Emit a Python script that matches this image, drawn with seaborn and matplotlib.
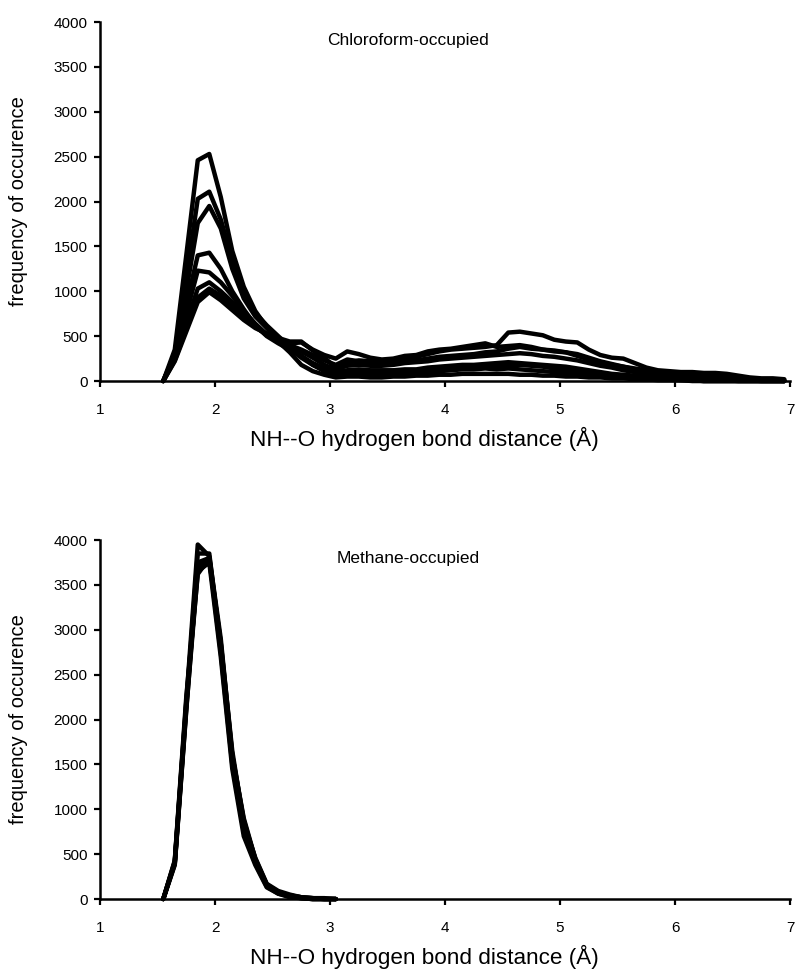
import numpy as np
import pandas as pd
import matplotlib
matplotlib.use("Agg")
import matplotlib.pyplot as plt
import seaborn as sns

# Bin centres of the NH--O distance histograms (Å)
chloroform_distance = np.round(np.arange(1.55, 6.96, 0.1), 2)
methane_distance = np.round(np.arange(1.55, 3.06, 0.1), 2)

# Chloroform-occupied trajectories: counts per 0.1 Å bin
chloroform_run1 = [0, 350, 1400, 2460, 2530, 2050, 1450, 1050, 780, 600, 440, 320, 180, 110, 70,
                   40, 50, 50, 40, 40, 50, 50, 60, 60, 70, 70, 80, 80, 80, 80, 80, 70, 70, 60, 60,
                   50, 50, 40, 40, 30, 30, 20, 20, 10, 10, 10, 0, 0, 0, 0, 0, 0, 0, 0, 0]
chloroform_run2 = [0, 300, 1150, 2030, 2110, 1800, 1350, 1000, 760, 620, 500, 380, 280, 180, 110,
                   60, 70, 70, 70, 70, 80, 80, 90, 100, 110, 120, 130, 130, 140, 130, 140, 130, 120, 110, 100,
                   90, 80, 70, 60, 50, 40, 30, 30, 20, 20, 10, 10, 0, 0, 0, 0, 0, 0, 0, 0]
chloroform_run3 = [0, 300, 1000, 1760, 1950, 1700, 1250, 920, 720, 590, 460, 360, 260, 180, 120,
                   80, 100, 100, 100, 100, 110, 120, 120, 130, 150, 160, 170, 170, 180, 170, 180, 180, 170, 160, 140,
                   120, 100, 90, 80, 70, 60, 50, 40, 30, 20, 20, 10, 0, 0, 0, 0, 0, 0, 0, 0]
chloroform_run4 = [0, 280, 850, 1400, 1430, 1250, 1000, 800, 620, 500, 420, 350, 280, 200, 140,
                   100, 120, 130, 120, 120, 120, 130, 130, 150, 160, 170, 180, 180, 190, 200, 210, 200, 190, 180, 170,
                   160, 140, 120, 100, 80, 70, 60, 50, 40, 30, 30, 20, 20, 10, 10, 0, 0, 0, 0, 0]
chloroform_run5 = [0, 270, 750, 1230, 1210, 1100, 950, 780, 640, 520, 450, 390, 330, 260, 180,
                   130, 170, 180, 170, 170, 180, 200, 210, 220, 240, 250, 260, 270, 280, 290, 300, 310, 300, 280, 270,
                   250, 230, 200, 170, 150, 120, 100, 80, 70, 60, 50, 40, 30, 30, 20, 10, 10, 0, 0, 0]
chloroform_run6 = [0, 250, 650, 1030, 1100, 1000, 880, 740, 610, 510, 450, 400, 350, 290, 230,
                   180, 240, 220, 200, 200, 210, 220, 230, 250, 270, 280, 290, 300, 320, 330, 360, 380, 360, 350, 330,
                   320, 300, 260, 220, 190, 160, 130, 110, 90, 80, 70, 60, 50, 40, 30, 30, 20, 10, 10, 0]
chloroform_run7 = [0, 230, 580, 930, 1030, 950, 830, 700, 600, 520, 460, 420, 430, 350, 290,
                   250, 330, 300, 260, 240, 250, 280, 290, 330, 350, 360, 380, 400, 420, 380, 390, 400, 380, 350, 340,
                   320, 280, 240, 210, 180, 160, 140, 120, 100, 90, 80, 80, 70, 60, 50, 40, 30, 20, 20, 10]
chloroform_run8 = [0, 220, 550, 880, 990, 900, 790, 680, 590, 530, 480, 440, 440, 340, 260,
                   150, 200, 230, 220, 210, 230, 260, 270, 300, 330, 350, 360, 370, 380, 400, 540, 550, 530, 510, 460,
                   440, 430, 350, 290, 260, 250, 200, 150, 120, 110, 100, 100, 90, 90, 80, 60, 40, 30, 30, 20]

# Methane-occupied trajectories: counts per 0.1 Å bin
methane_run1 = [0, 420, 2200, 3950, 3820, 2900, 1600, 900, 450, 160, 80, 40, 20, 10, 0, 0]
methane_run2 = [0, 400, 2150, 3850, 3850, 2800, 1550, 800, 420, 150, 70, 30, 10, 0, 0, 0]
methane_run3 = [0, 380, 2100, 3750, 3800, 2750, 1500, 750, 400, 140, 60, 30, 10, 0, 0, 0]
methane_run4 = [0, 410, 2180, 3700, 3780, 2850, 1650, 850, 460, 170, 90, 50, 20, 10, 0, 0]
methane_run5 = [0, 390, 2120, 3650, 3750, 2700, 1450, 700, 380, 130, 60, 20, 10, 0, 0, 0]
methane_run6 = [0, 430, 2250, 3620, 3800, 2850, 1600, 880, 440, 160, 80, 40, 20, 10, 10, 0]

chloroform_runs = [chloroform_run1, chloroform_run2, chloroform_run3, chloroform_run4,
                   chloroform_run5, chloroform_run6, chloroform_run7, chloroform_run8]
methane_runs = [methane_run1, methane_run2, methane_run3, methane_run4, methane_run5, methane_run6]

y_ticks = [0, 500, 1000, 1500, 2000, 2500, 3000, 3500, 4000]
x_ticks = [1, 2, 3, 4, 5, 6, 7]


def long_form(distance, runs):
    frames = []
    for i, counts in enumerate(runs):
        frames.append(pd.DataFrame({"distance": distance, "count": counts, "run": i}))
    return pd.concat(frames, ignore_index=True)


sns.set_theme(style="ticks")
plt.rcParams["font.family"] = ["Liberation Sans", "DejaVu Sans"]
plt.rcParams["text.color"] = "black"
plt.rcParams["axes.labelcolor"] = "black"

fig = plt.figure(figsize=(7.95, 9.75), dpi=100)
ax_top = fig.add_axes([0.1258, 0.6092, 0.868, 0.3682])
ax_bot = fig.add_axes([0.1258, 0.0779, 0.868, 0.3682])

panels = [
    (ax_top, long_form(chloroform_distance, chloroform_runs), "Chloroform-occupied"),
    (ax_bot, long_form(methane_distance, methane_runs), "Methane-occupied"),
]

for ax, df, title in panels:
    sns.lineplot(data=df, x="distance", y="count", units="run", estimator=None,
                 color="black", linewidth=3.2, ax=ax, legend=False,
                 solid_joinstyle="round", solid_capstyle="round")
    ax.set_xlim(1, 7)
    ax.set_ylim(0, 4000)
    ax.set_xticks(x_ticks)
    ax.set_yticks(y_ticks)
    ax.set_xticklabels([str(t) for t in x_ticks])
    ax.set_yticklabels([str(t) for t in y_ticks])
    ax.tick_params(axis="both", direction="out", length=4, width=1.6, color="black",
                   labelsize=11, labelcolor="black")
    ax.tick_params(axis="x", pad=12)
    ax.tick_params(axis="y", pad=5)
    for side in ("left", "bottom"):
        ax.spines[side].set_linewidth(1.8)
        ax.spines[side].set_color("black")
    sns.despine(ax=ax)
    ax.set_xlabel("NH--O hydrogen bond distance (Å)", fontsize=16.2)
    ax.xaxis.set_label_coords(0.47, -0.128)
    ax.set_ylabel("frequency of occurence", fontsize=14.5)
    ax.yaxis.set_label_coords(-0.105, 0.5)
    ax.text(3.68, 3790, title, fontsize=12.5, ha="center", va="center")
    ax.set_facecolor("white")
    for line in ax.lines:
        line.set_clip_on(False)

fig.savefig("out.png", dpi=100, facecolor="white")
